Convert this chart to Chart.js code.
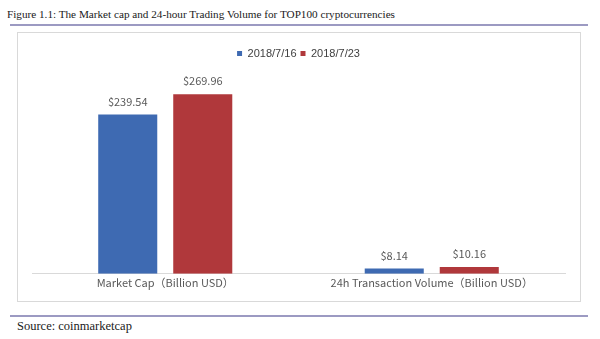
<!DOCTYPE html>
<html>
<head>
<meta charset="utf-8">
<script src="https://cdn.jsdelivr.net/npm/chart.js@4/dist/chart.umd.min.js"></script>
<style>
  body { margin: 0; background: #fff; }
  #page { position: relative; width: 600px; height: 339px; overflow: hidden; }
  .serif { position: absolute; font-family: "Liberation Serif", "Times New Roman", serif; color: #1a1a1a; white-space: nowrap; }
  .rule { position: absolute; left: 10px; width: 578px; height: 2px; background: #9c9ac2; }
  #frame { position: absolute; left: 17px; top: 32px; width: 564px; height: 270px; box-sizing: border-box; border: 1px solid #d9d9d9; }
  #chart { position: absolute; left: 0; top: 0; }
</style>
</head>
<body>
<div id="page">
  <div class="serif" style="left:7px; top:8px; font-size:11.2px;">Figure 1.1: The Market cap and 24-hour Trading Volume for TOP100 cryptocurrencies</div>
  <div class="rule" style="top:24px;"></div>
  <div id="frame"></div>
  <div class="rule" style="top:315px;"></div>
  <div class="serif" style="left:17px; top:319px; font-size:12.5px;">Source: coinmarketcap</div>
  <canvas id="chart" width="600" height="339"></canvas>
</div>
<script>
const categories = ["Market Cap（Billion USD）", "24h Transaction Volume（Billion USD）"];
const seriesNames = ["2018/7/16", "2018/7/23"];
const values0716 = [239.54, 8.14];
const values0723 = [269.96, 10.16];
const seriesColors = ["#3e6ab2", "#b0383b"];

// 막대 위에 값 표시
const valueLabels = {
  id: "valueLabels",
  afterDatasetsDraw(chart) {
    const ctx = chart.ctx;
    ctx.save();
    ctx.font = "11px 'Noto Sans CJK SC', sans-serif";
    ctx.fillStyle = "#595959";
    ctx.textAlign = "center";
    ctx.textBaseline = "middle";
    chart.data.datasets.forEach((ds, i) => {
      chart.getDatasetMeta(i).data.forEach((bar, j) => {
        ctx.fillText("$" + ds.data[j].toFixed(2), bar.x, bar.y - 13);
      });
    });
    ctx.restore();
  },
};

new Chart(document.getElementById("chart"), {
  type: "bar",
  data: {
    labels: categories,
    datasets: [
      { label: seriesNames[0], data: values0716, backgroundColor: seriesColors[0] },
      { label: seriesNames[1], data: values0723, backgroundColor: seriesColors[1] },
    ],
  },
  options: {
    responsive: false,
    animation: false,
    layout: { padding: { left: 32, right: 35, top: 44, bottom: 48 } },
    categoryPercentage: 0.563,
    barPercentage: 0.787,
    plugins: {
      legend: {
        position: "top",
        labels: {
          boxWidth: 5,
          boxHeight: 5,
          padding: 4,
          color: "#404040",
          font: { family: "'Liberation Sans', Arial, sans-serif", size: 11 },
        },
      },
      tooltip: { enabled: false },
    },
    scales: {
      x: {
        grid: { display: false, drawTicks: false },
        border: { color: "#d9d9d9", width: 1 },
        ticks: {
          padding: 2,
          color: "#595959",
          font: { family: "'Noto Sans CJK SC', sans-serif", size: 11 },
        },
      },
      y: { display: false, min: 0, max: 308 },
    },
  },
  plugins: [valueLabels],
});
</script>
</body>
</html>
